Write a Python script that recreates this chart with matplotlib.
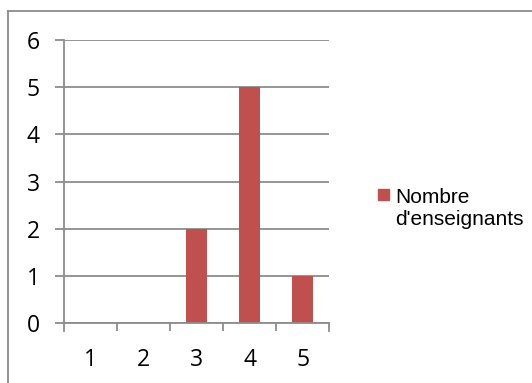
import matplotlib.pyplot as plt
from matplotlib.lines import Line2D
from matplotlib.patches import Rectangle

categories = [1, 2, 3, 4, 5]
enseignants = [0, 0, 2, 5, 1]
serie = "Nombre\nd'enseignants"

bar_color = '#C0504D'
grid_color = '#8C8C8C'

fig = plt.figure(figsize=(5.32, 3.83), dpi=100)
fig.patch.set_facecolor('white')

# cadre gris autour du graphique (coupé à droite et en bas)
W, H = 532, 383
fig.add_artist(Line2D([8 / W, 8 / W], [0, 1 - 10.7 / H], color='#8A8A8A', lw=1.3,
                      transform=fig.transFigure))
fig.add_artist(Line2D([8 / W, 1], [1 - 10.7 / H, 1 - 10.7 / H], color='#8A8A8A', lw=1.3,
                      transform=fig.transFigure))

ax = fig.add_axes([64.3 / W, 1 - 323.3 / H, 265 / W, 283.3 / H])

ax.bar(categories, enseignants, width=0.4, color=bar_color, zorder=3, label=serie)

ax.set_xlim(0.5, 5.5)
ax.set_ylim(0, 6)
ax.set_yticks(range(0, 7))
ax.set_xticks([1.5, 2.5, 3.5, 4.5], minor=True)
ax.set_xticks(categories)
ax.set_xticklabels([str(c) for c in categories])

ax.grid(axis='y', color=grid_color, lw=1.3, zorder=1)
for s in ['top', 'right']:
    ax.spines[s].set_visible(False)
for s in ['left', 'bottom']:
    ax.spines[s].set_color(grid_color)
    ax.spines[s].set_linewidth(1.3)
    ax.spines[s].set_zorder(4)

# graduations : traits mineurs entre catégories, pas de traits aux étiquettes
ax.tick_params(axis='x', which='major', length=0, pad=18, labelsize=16.5)
ax.tick_params(axis='x', which='minor', length=6, width=1.3, color=grid_color, direction='out')
ax.tick_params(axis='y', length=6.5, width=1.3, color=grid_color, pad=11, labelsize=16.5)
# traits en bout d'axe
ax.plot([5.5, 5.5], [0, -0.17], color=grid_color, lw=1.3, clip_on=False, zorder=4)
ax.plot([0.5, 0.5], [0, -0.17], color=grid_color, lw=1.3, clip_on=False, zorder=4)

for lab in ax.get_xticklabels() + ax.get_yticklabels():
    lab.set_fontfamily('Open Sans')

# légende : carré + libellé sur deux lignes
fig.add_artist(Rectangle((378.3 / W, 1 - 199.5 / H), 10.7 / W, 10.5 / H,
                         transform=fig.transFigure, color=bar_color))
for i, ligne in enumerate(serie.split('\n')):
    fig.text(395 / W, 1 - (202.7 + 22.3 * i) / H, ligne, va='baseline', ha='left',
             fontsize=15, family='Liberation Sans')

fig.savefig('out.png', dpi=100)
